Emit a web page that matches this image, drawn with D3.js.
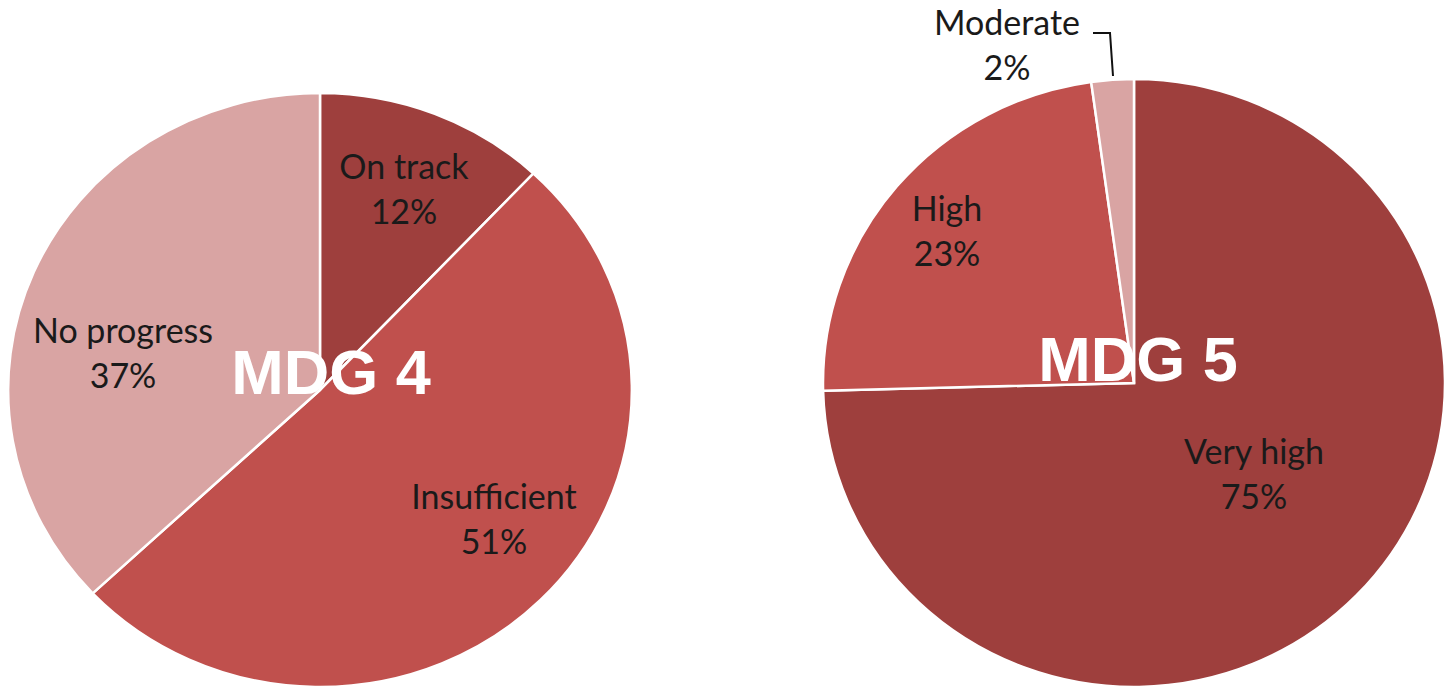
<!DOCTYPE html>
<html>
<head>
<meta charset="utf-8">
<script src="https://cdn.jsdelivr.net/npm/d3@7"></script>
<style>
  body { margin: 0; background: #fff; }
  svg { display: block; }
</style>
</head>
<body>
<div id="canvas"></div>
<script>
// data
var mdg4Cats = ["On track", "Insufficient", "No progress"];
var mdg4Vals = [12, 51, 37];
var mdg5Cats = ["Very high", "High", "Moderate"];
var mdg5Vals = [74.6, 23.2, 2.2];
var titles = ["MDG 4", "MDG 5"];

var W = 1447, H = 691;
var colors = ["#9e3f3d", "#c0504d", "#d9a4a3"];

var svg = d3.select("#canvas").append("svg")
    .attr("width", W)
    .attr("height", H);

// layout of the two pies (ellipse-ish, source was stretched a bit)
var pies = [
    {cats: mdg4Cats, vals: mdg4Vals, title: titles[0], cx: 320, cy: 390, r: 297, sx: 1.05,
     labels: [[84, -200], [174, 130], [-197, -36]], titleDx: 11, titleDy: 4},
    {cats: mdg5Cats, vals: mdg5Vals, title: titles[1], cx: 1134, cy: 383, r: 304, sx: 1.023,
     labels: [[120, 92], [-187, -151], [-127, -337]], titleDx: 4, titleDy: -2}
];

var pie = d3.pie().sort(null).value(function(d){ return d; });
var fmt = function(v){ return Math.round(v) + "%"; };

pies.forEach(function(p){
    var arc = d3.arc().innerRadius(0).outerRadius(p.r);

    var g = svg.append("g")
        .attr("transform", "translate(" + p.cx + "," + p.cy + ")");

    g.append("g")
        .attr("transform", "scale(" + p.sx + ",1)")
        .selectAll("path")
        .data(pie(p.vals))
        .enter()
        .append("path")
        .attr("d", arc)
        .style("fill", function(d, i){ return colors[i]; })
        .style("stroke", "#fff")
        .style("stroke-width", 2.5)
        .attr("vector-effect", "non-scaling-stroke");

    var labels = g.selectAll(".lbl")
        .data(p.cats)
        .enter()
        .append("text")
        .attr("class", "lbl")
        .attr("text-anchor", "middle")
        .style("font-family", "Lato, 'Open Sans', sans-serif")
        .style("font-size", "34px")
        .style("fill", "#1a1a1a");

    labels.append("tspan")
        .attr("x", function(d, i){ return p.labels[i][0]; })
        .attr("y", function(d, i){ return p.labels[i][1] - 11; })
        .text(function(d){ return d; });
    labels.append("tspan")
        .attr("x", function(d, i){ return p.labels[i][0]; })
        .attr("y", function(d, i){ return p.labels[i][1] + 34; })
        .text(function(d, i){ return fmt(p.vals[i]); });

    // leader line for the thin slice
    if (p.title == "MDG 5") {
        g.append("path")
            .attr("d", "M-41,-350 L-24,-350 L-21,-307")
            .style("fill", "none")
            .style("stroke", "#111")
            .style("stroke-width", 2);
    }

    g.append("text")
        .attr("x", p.titleDx)
        .attr("y", p.titleDy)
        .attr("text-anchor", "middle")
        .style("font-family", "'Liberation Sans', Arial, sans-serif")
        .style("font-weight", "bold")
        .style("font-size", "63px")
        .style("fill", "#fff")
        .text(p.title);
});
</script>
</body>
</html>
